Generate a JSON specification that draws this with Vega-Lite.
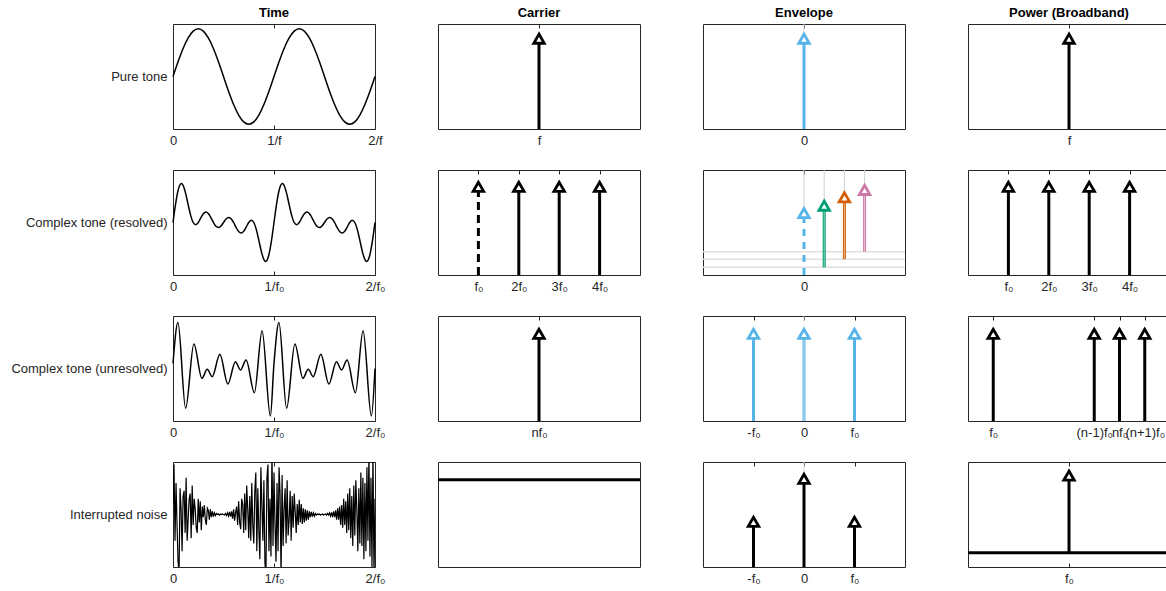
{
 "$schema": "https://vega.github.io/schema/vega-lite/v6.json",
 "padding": {"left": 10, "top": 6, "right": 0, "bottom": 5},
 "background": "white",
 "columns": 4,
 "spacing": {"row": 41, "column": 63},
 "bounds": "flush",
 "concat": [
  {
   "title": "Time", "width": 202, "height": 105,
   "data": {"values": [
    {"t":0,"v":0},{"t":0.05,"v":0.309},{"t":0.1,"v":0.588},{"t":0.15,"v":0.809},{"t":0.2,"v":0.951},{"t":0.25,"v":1},{"t":0.3,"v":0.951},{"t":0.35,"v":0.809},{"t":0.4,"v":0.588},{"t":0.45,"v":0.309},
    {"t":0.5,"v":0},{"t":0.55,"v":-0.309},{"t":0.6,"v":-0.588},{"t":0.65,"v":-0.809},{"t":0.7,"v":-0.951},{"t":0.75,"v":-1},{"t":0.8,"v":-0.951},{"t":0.85,"v":-0.809},{"t":0.9,"v":-0.588},{"t":0.95,"v":-0.309},
    {"t":1,"v":0},{"t":1.05,"v":0.309},{"t":1.1,"v":0.588},{"t":1.15,"v":0.809},{"t":1.2,"v":0.951},{"t":1.25,"v":1},{"t":1.3,"v":0.951},{"t":1.35,"v":0.809},{"t":1.4,"v":0.588},{"t":1.45,"v":0.309},
    {"t":1.5,"v":0},{"t":1.55,"v":-0.309},{"t":1.6,"v":-0.588},{"t":1.65,"v":-0.809},{"t":1.7,"v":-0.951},{"t":1.75,"v":-1},{"t":1.8,"v":-0.951},{"t":1.85,"v":-0.809},{"t":1.9,"v":-0.588},{"t":1.95,"v":-0.309},{"t":2,"v":0}
   ]},
   "resolve": {"axis": {"x": "independent"}},
   "layer": [
    {"mark": {"type": "line", "color": "black", "strokeWidth": 1.5, "interpolate": "monotone"},
     "encoding": {
      "x": {"field": "t", "type": "quantitative", "scale": {"domain": [0, 2], "nice": false}, "axis": {"title": null, "values": [0, 1, 2], "labelExpr": "['0','1/f','2/f'][datum.value]"}},
      "y": {"field": "v", "type": "quantitative", "scale": {"domain": [-1.1, 1.1], "nice": false}, "axis": {"title": "Pure tone", "titleAngle": 0, "titleAlign": "right", "titleBaseline": "middle", "titleX": -6, "titleY": 52.5, "labels": false, "ticks": false, "domain": false, "titleFontWeight": "normal", "titleFontSize": 13, "titleColor": "#262626", "titleFont": "Liberation Sans"}}
     }},
    {"mark": {"type": "rule", "strokeOpacity": 0},
     "encoding": {"x": {"field": "t", "type": "quantitative", "axis": {"title": null, "orient": "top", "values": [0, 1, 2], "labels": false}}}}
   ]
  },
  {
   "title": "Carrier", "width": 202, "height": 105,
   "data": {"values": [{"x": 1, "y0": 0, "y1": 0.86}]},
   "resolve": {"axis": {"x": "independent"}},
   "layer": [
    {"mark": {"type": "rule", "color": "black", "strokeWidth": 3},
     "encoding": {
      "x": {"field": "x", "type": "quantitative", "scale": {"domain": [0, 2], "nice": false}, "axis": {"title": null, "values": [1], "labelExpr": "'f'"}},
      "y": {"field": "y0", "type": "quantitative", "scale": {"domain": [0, 1], "nice": false}, "axis": null},
      "y2": {"field": "y1"}}},
    {"mark": {"type": "point", "shape": "triangle-up", "size": 110, "filled": false, "fill": "white", "stroke": "black", "strokeWidth": 2.8, "opacity": 1},
     "encoding": {
      "x": {"field": "x", "type": "quantitative", "axis": {"title": null, "orient": "top", "values": [1], "labels": false}},
      "y": {"field": "y1", "type": "quantitative", "axis": null}}}
   ]
  },
  {
   "title": "Envelope", "width": 202, "height": 105,
   "data": {"values": [{"x": 0, "y0": 0, "y1": 0.86}]},
   "resolve": {"axis": {"x": "independent"}},
   "layer": [
    {"mark": {"type": "rule", "color": "#d9d9d9", "strokeWidth": 1},
     "encoding": {
      "x": {"field": "x", "type": "quantitative", "scale": {"domain": [-2, 2], "nice": false}, "axis": {"title": null, "values": [0], "labelExpr": "'0'"}},
      "y": {"field": "y1", "type": "quantitative", "scale": {"domain": [0, 1], "nice": false}, "axis": null},
      "y2": {"datum": 1}}},
    {"mark": {"type": "rule", "color": "#56B4E9", "strokeWidth": 3},
     "encoding": {
      "x": {"field": "x", "type": "quantitative", "axis": null},
      "y": {"field": "y0", "type": "quantitative", "axis": null},
      "y2": {"field": "y1"}}},
    {"mark": {"type": "point", "shape": "triangle-up", "size": 110, "filled": false, "fill": "white", "stroke": "#56B4E9", "strokeWidth": 2.8, "opacity": 1},
     "encoding": {
      "x": {"field": "x", "type": "quantitative", "axis": {"title": null, "orient": "top", "values": [0], "labels": false}},
      "y": {"field": "y1", "type": "quantitative", "axis": null}}}
   ]
  },
  {
   "title": "Power (Broadband)", "width": 202, "height": 105,
   "data": {"values": [{"x": 1, "y0": 0, "y1": 0.86}]},
   "resolve": {"axis": {"x": "independent"}},
   "layer": [
    {"mark": {"type": "rule", "color": "black", "strokeWidth": 3},
     "encoding": {
      "x": {"field": "x", "type": "quantitative", "scale": {"domain": [0, 2], "nice": false}, "axis": {"title": null, "values": [1], "labelExpr": "'f'"}},
      "y": {"field": "y0", "type": "quantitative", "scale": {"domain": [0, 1], "nice": false}, "axis": null},
      "y2": {"field": "y1"}}},
    {"mark": {"type": "point", "shape": "triangle-up", "size": 110, "filled": false, "fill": "white", "stroke": "black", "strokeWidth": 2.8, "opacity": 1},
     "encoding": {
      "x": {"field": "x", "type": "quantitative", "axis": {"title": null, "orient": "top", "values": [1], "labels": false}},
      "y": {"field": "y1", "type": "quantitative", "axis": null}}}
   ]
  },
  {
   "width": 202, "height": 105,
   "data": {"values": [
    {"t":0,"v":0},{"t":0.025,"v":1.507},{"t":0.05,"v":2.657},{"t":0.075,"v":3.202},{"t":0.083,"v":3.232},{"t":0.1,"v":3.078},{"t":0.125,"v":2.414},{"t":0.15,"v":1.481},{"t":0.175,"v":0.593},{"t":0.2,"v":0},
    {"t":0.225,"v":-0.182},{"t":0.25,"v":0},{"t":0.275,"v":0.376},{"t":0.3,"v":0.727},{"t":0.325,"v":0.877},{"t":0.35,"v":0.755},{"t":0.375,"v":0.414},{"t":0.4,"v":0},
    {"t":0.425,"v":-0.318},{"t":0.45,"v":-0.421},{"t":0.475,"v":-0.286},{"t":0.5,"v":0},{"t":0.525,"v":0.286},{"t":0.55,"v":0.421},{"t":0.575,"v":0.318},{"t":0.6,"v":0},
    {"t":0.625,"v":-0.414},{"t":0.65,"v":-0.755},{"t":0.675,"v":-0.877},{"t":0.7,"v":-0.727},{"t":0.725,"v":-0.376},{"t":0.75,"v":0},{"t":0.775,"v":0.182},{"t":0.8,"v":0},
    {"t":0.825,"v":-0.593},{"t":0.85,"v":-1.481},{"t":0.875,"v":-2.414},{"t":0.9,"v":-3.078},{"t":0.917,"v":-3.232},{"t":0.925,"v":-3.202},{"t":0.95,"v":-2.657},{"t":0.975,"v":-1.507},{"t":1,"v":0},
    {"t":1.025,"v":1.507},{"t":1.05,"v":2.657},{"t":1.075,"v":3.202},{"t":1.083,"v":3.232},{"t":1.1,"v":3.078},{"t":1.125,"v":2.414},{"t":1.15,"v":1.481},{"t":1.175,"v":0.593},{"t":1.2,"v":0},
    {"t":1.225,"v":-0.182},{"t":1.25,"v":0},{"t":1.275,"v":0.376},{"t":1.3,"v":0.727},{"t":1.325,"v":0.877},{"t":1.35,"v":0.755},{"t":1.375,"v":0.414},{"t":1.4,"v":0},
    {"t":1.425,"v":-0.318},{"t":1.45,"v":-0.421},{"t":1.475,"v":-0.286},{"t":1.5,"v":0},{"t":1.525,"v":0.286},{"t":1.55,"v":0.421},{"t":1.575,"v":0.318},{"t":1.6,"v":0},
    {"t":1.625,"v":-0.414},{"t":1.65,"v":-0.755},{"t":1.675,"v":-0.877},{"t":1.7,"v":-0.727},{"t":1.725,"v":-0.376},{"t":1.75,"v":0},{"t":1.775,"v":0.182},{"t":1.8,"v":0},
    {"t":1.825,"v":-0.593},{"t":1.85,"v":-1.481},{"t":1.875,"v":-2.414},{"t":1.9,"v":-3.078},{"t":1.917,"v":-3.232},{"t":1.925,"v":-3.202},{"t":1.95,"v":-2.657},{"t":1.975,"v":-1.507},{"t":2,"v":0}
   ]},
   "resolve": {"axis": {"x": "independent"}},
   "layer": [
    {"mark": {"type": "line", "color": "black", "strokeWidth": 1.5, "interpolate": "monotone"},
     "encoding": {
      "x": {"field": "t", "type": "quantitative", "scale": {"domain": [0, 2], "nice": false}, "axis": {"title": null, "values": [0, 1, 2], "labelExpr": "['0','1/f₀','2/f₀'][datum.value]"}},
      "y": {"field": "v", "type": "quantitative", "scale": {"domain": [-4.36, 4.36], "nice": false}, "axis": {"title": "Complex tone (resolved)", "titleAngle": 0, "titleAlign": "right", "titleBaseline": "middle", "titleX": -6, "titleY": 52.5, "labels": false, "ticks": false, "domain": false, "titleFontWeight": "normal", "titleFontSize": 13, "titleColor": "#262626", "titleFont": "Liberation Sans"}}
     }},
    {"mark": {"type": "rule", "strokeOpacity": 0},
     "encoding": {"x": {"field": "t", "type": "quantitative", "axis": {"title": null, "orient": "top", "values": [0, 1, 2], "labels": false}}}}
   ]
  },
  {
   "width": 202, "height": 105,
   "data": {"values": [{"x": 1, "y0": 0, "y1": 0.84, "d": "dash"}, {"x": 2, "y0": 0, "y1": 0.84, "d": "solid"}, {"x": 3, "y0": 0, "y1": 0.84, "d": "solid"}, {"x": 4, "y0": 0, "y1": 0.84, "d": "solid"}]},
   "resolve": {"axis": {"x": "independent"}},
   "layer": [
    {"mark": {"type": "rule", "color": "black", "strokeWidth": 3},
     "encoding": {
      "x": {"field": "x", "type": "quantitative", "scale": {"domain": [0, 5], "nice": false}, "axis": {"title": null, "values": [1, 2, 3, 4], "labelExpr": "['','f₀','2f₀','3f₀','4f₀'][datum.value]"}},
      "y": {"field": "y0", "type": "quantitative", "scale": {"domain": [0, 1], "nice": false}, "axis": null},
      "y2": {"field": "y1"},
      "strokeDash": {"field": "d", "type": "nominal", "scale": {"domain": ["dash", "solid"], "range": [[8, 5], [1, 0]]}, "legend": null}}},
    {"mark": {"type": "point", "shape": "triangle-up", "size": 110, "filled": false, "fill": "white", "stroke": "black", "strokeWidth": 2.8, "opacity": 1},
     "encoding": {
      "x": {"field": "x", "type": "quantitative", "axis": {"title": null, "orient": "top", "values": [1, 2, 3, 4], "labels": false}},
      "y": {"field": "y1", "type": "quantitative", "axis": null}}}
   ]
  },
  {
   "width": 202, "height": 105,
   "data": {"values": [
    {"x": 0, "y0": 0, "y1": 0.59, "h": "h0"}, {"x": 0.4, "y0": 0.073, "y1": 0.66, "h": "h1"}, {"x": 0.8, "y0": 0.15, "y1": 0.74, "h": "h2"}, {"x": 1.2, "y0": 0.222, "y1": 0.81, "h": "h3"}
   ]},
   "resolve": {"axis": {"x": "independent"}},
   "layer": [
    {"transform": [{"filter": "datum.h != 'h0'"}],
     "mark": {"type": "rule", "color": "#e0e0e0", "strokeWidth": 1.5},
     "encoding": {
      "y": {"field": "y0", "type": "quantitative", "scale": {"domain": [0, 1], "nice": false}, "axis": null}}},
    {"mark": {"type": "rule", "color": "#d0d0d0", "strokeWidth": 1},
     "encoding": {
      "x": {"field": "x", "type": "quantitative", "scale": {"domain": [-2, 2], "nice": false}, "axis": {"title": null, "values": [0], "labelExpr": "'0'"}},
      "y": {"field": "y1", "type": "quantitative", "axis": null},
      "y2": {"datum": 1}}},
    {"transform": [{"filter": "datum.h == 'h0'"}],
     "mark": {"type": "rule", "strokeWidth": 3, "strokeDash": [7, 6]},
     "encoding": {
      "x": {"field": "x", "type": "quantitative", "axis": null},
      "y": {"field": "y0", "type": "quantitative", "axis": null},
      "y2": {"field": "y1"},
      "color": {"field": "h", "type": "nominal", "scale": {"domain": ["h0", "h1", "h2", "h3"], "range": ["#56B4E9", "#009E73", "#D55E00", "#CC79A7"]}, "legend": null}}},
    {"transform": [{"filter": "datum.h != 'h0'"}],
     "mark": {"type": "rule", "strokeWidth": 3},
     "encoding": {
      "x": {"field": "x", "type": "quantitative", "axis": null},
      "y": {"field": "y0", "type": "quantitative", "axis": null},
      "y2": {"field": "y1"},
      "color": {"field": "h", "type": "nominal", "legend": null}}},
    {"transform": [{"filter": "datum.h != 'h0'"}],
     "mark": {"type": "rule", "strokeWidth": 1, "color": "white", "opacity": 0.55},
     "encoding": {
      "x": {"field": "x", "type": "quantitative", "axis": null},
      "y": {"field": "y0", "type": "quantitative", "axis": null},
      "y2": {"field": "y1"}}},
    {"mark": {"type": "point", "shape": "triangle-up", "size": 110, "filled": false, "fill": "white", "strokeWidth": 2.8, "opacity": 1},
     "encoding": {
      "x": {"field": "x", "type": "quantitative", "axis": {"title": null, "orient": "top", "values": [0], "labels": false}},
      "y": {"field": "y1", "type": "quantitative", "axis": null},
      "color": {"field": "h", "type": "nominal", "legend": null}}}
   ]
  },
  {
   "width": 202, "height": 105,
   "data": {"values": [{"x": 1, "y0": 0, "y1": 0.84}, {"x": 2, "y0": 0, "y1": 0.84}, {"x": 3, "y0": 0, "y1": 0.84}, {"x": 4, "y0": 0, "y1": 0.84}]},
   "resolve": {"axis": {"x": "independent"}},
   "layer": [
    {"mark": {"type": "rule", "color": "black", "strokeWidth": 3},
     "encoding": {
      "x": {"field": "x", "type": "quantitative", "scale": {"domain": [0, 5], "nice": false}, "axis": {"title": null, "values": [1, 2, 3, 4], "labelExpr": "['','f₀','2f₀','3f₀','4f₀'][datum.value]"}},
      "y": {"field": "y0", "type": "quantitative", "scale": {"domain": [0, 1], "nice": false}, "axis": null},
      "y2": {"field": "y1"}}},
    {"mark": {"type": "point", "shape": "triangle-up", "size": 110, "filled": false, "fill": "white", "stroke": "black", "strokeWidth": 2.8, "opacity": 1},
     "encoding": {
      "x": {"field": "x", "type": "quantitative", "axis": {"title": null, "orient": "top", "values": [1, 2, 3, 4], "labels": false}},
      "y": {"field": "y1", "type": "quantitative", "axis": null}}}
   ]
  },
  {
   "width": 202, "height": 105,
   "data": {"values": [
    {"t":0,"v":0.55},{"t":0.049,"v":0.937},{"t":0.125,"v":0.121},{"t":0.207,"v":0.733},{"t":0.286,"v":0.406},{"t":0.339,"v":0.492},{"t":0.388,"v":0.422},{"t":0.464,"v":0.635},{"t":0.543,"v":0.352},{"t":0.618,"v":0.565},{"t":0.668,"v":0.486},{"t":0.724,"v":0.581},{"t":0.806,"v":0.27},{"t":0.882,"v":0.86},{"t":0.964,"v":0.048},
    {"t":1,"v":0.55},{"t":1.049,"v":0.937},{"t":1.125,"v":0.121},{"t":1.207,"v":0.733},{"t":1.286,"v":0.406},{"t":1.339,"v":0.492},{"t":1.388,"v":0.422},{"t":1.464,"v":0.635},{"t":1.543,"v":0.352},{"t":1.618,"v":0.565},{"t":1.668,"v":0.486},{"t":1.724,"v":0.581},{"t":1.806,"v":0.27},{"t":1.882,"v":0.86},{"t":1.964,"v":0.048},{"t":2,"v":0.5}
   ]},
   "resolve": {"axis": {"x": "independent"}},
   "layer": [
    {"mark": {"type": "line", "color": "black", "strokeWidth": 1.5, "interpolate": "monotone"},
     "encoding": {
      "x": {"field": "t", "type": "quantitative", "scale": {"domain": [0, 2], "nice": false}, "axis": {"title": null, "values": [0, 1, 2], "labelExpr": "['0','1/f₀','2/f₀'][datum.value]"}},
      "y": {"field": "v", "type": "quantitative", "scale": {"domain": [0, 1], "nice": false}, "axis": {"title": "Complex tone (unresolved)", "titleAngle": 0, "titleAlign": "right", "titleBaseline": "middle", "titleX": -6, "titleY": 52.5, "labels": false, "ticks": false, "domain": false, "titleFontWeight": "normal", "titleFontSize": 13, "titleColor": "#262626", "titleFont": "Liberation Sans"}}
     }},
    {"mark": {"type": "rule", "strokeOpacity": 0},
     "encoding": {"x": {"field": "t", "type": "quantitative", "axis": {"title": null, "orient": "top", "values": [0, 1, 2], "labels": false}}}}
   ]
  },
  {
   "width": 202, "height": 105,
   "data": {"values": [{"x": 1, "y0": 0, "y1": 0.83}]},
   "resolve": {"axis": {"x": "independent"}},
   "layer": [
    {"mark": {"type": "rule", "color": "black", "strokeWidth": 3},
     "encoding": {
      "x": {"field": "x", "type": "quantitative", "scale": {"domain": [0, 2], "nice": false}, "axis": {"title": null, "values": [1], "labelExpr": "'nf₀'"}},
      "y": {"field": "y0", "type": "quantitative", "scale": {"domain": [0, 1], "nice": false}, "axis": null},
      "y2": {"field": "y1"}}},
    {"mark": {"type": "point", "shape": "triangle-up", "size": 110, "filled": false, "fill": "white", "stroke": "black", "strokeWidth": 2.8, "opacity": 1},
     "encoding": {
      "x": {"field": "x", "type": "quantitative", "axis": {"title": null, "orient": "top", "values": [1], "labels": false}},
      "y": {"field": "y1", "type": "quantitative", "axis": null}}}
   ]
  },
  {
   "width": 202, "height": 105,
   "data": {"values": [{"x": -1, "y0": 0, "y1": 0.83}, {"x": 0, "y0": 0, "y1": 0.83}, {"x": 1, "y0": 0, "y1": 0.83}]},
   "resolve": {"axis": {"x": "independent"}},
   "layer": [
    {"mark": {"type": "rule", "color": "#56B4E9", "strokeWidth": 3},
     "encoding": {
      "x": {"field": "x", "type": "quantitative", "scale": {"domain": [-2, 2], "nice": false}, "axis": {"title": null, "values": [-1, 0, 1], "labelExpr": "datum.value == 0 ? '0' : datum.value < 0 ? '-f₀' : 'f₀'"}},
      "y": {"field": "y0", "type": "quantitative", "scale": {"domain": [0, 1], "nice": false}, "axis": null},
      "y2": {"field": "y1"}}},
    {"transform": [{"filter": "datum.x == 0"}],
     "mark": {"type": "rule", "color": "#e8e8e8", "strokeWidth": 1, "opacity": 0.8},
     "encoding": {
      "x": {"field": "x", "type": "quantitative", "axis": null},
      "y": {"field": "y0", "type": "quantitative", "axis": null},
      "y2": {"datum": 1}}},
    {"mark": {"type": "point", "shape": "triangle-up", "size": 110, "filled": false, "fill": "white", "stroke": "#56B4E9", "strokeWidth": 2.8, "opacity": 1},
     "encoding": {
      "x": {"field": "x", "type": "quantitative", "axis": {"title": null, "orient": "top", "values": [-1, 0, 1], "labels": false}},
      "y": {"field": "y1", "type": "quantitative", "axis": null}}}
   ]
  },
  {
   "width": 202, "height": 105,
   "data": {"values": [{"x": 1, "y0": 0, "y1": 0.83}, {"x": 5, "y0": 0, "y1": 0.83}, {"x": 6, "y0": 0, "y1": 0.83}, {"x": 7, "y0": 0, "y1": 0.83}]},
   "resolve": {"axis": {"x": "independent"}},
   "layer": [
    {"mark": {"type": "rule", "color": "black", "strokeWidth": 3},
     "encoding": {
      "x": {"field": "x", "type": "quantitative", "scale": {"domain": [0, 8], "nice": false}, "axis": {"title": null, "values": [1, 5, 6, 7], "labelExpr": "datum.value == 1 ? 'f₀' : datum.value == 5 ? '(n-1)f₀' : datum.value == 6 ? 'nf₀' : '(n+1)f₀'"}},
      "y": {"field": "y0", "type": "quantitative", "scale": {"domain": [0, 1], "nice": false}, "axis": null},
      "y2": {"field": "y1"}}},
    {"mark": {"type": "point", "shape": "triangle-up", "size": 110, "filled": false, "fill": "white", "stroke": "black", "strokeWidth": 2.8, "opacity": 1},
     "encoding": {
      "x": {"field": "x", "type": "quantitative", "axis": {"title": null, "orient": "top", "values": [1, 5, 6, 7], "labels": false}},
      "y": {"field": "y1", "type": "quantitative", "axis": null}}}
   ]
  },
  {
   "width": 202, "height": 105,
   "data": {"values": [
    {"t":0,"v":0.2},{"t":0.01,"v":0.95},{"t":0.02,"v":-0.5},{"t":0.03,"v":0.6},{"t":0.04,"v":-0.2},{"t":0.05,"v":-0.9},{"t":0.06,"v":-1.1},{"t":0.07,"v":0.5},{"t":0.08,"v":0.1},{"t":0.09,"v":-0.7},
    {"t":0.1,"v":0.35},{"t":0.11,"v":0.45},{"t":0.12,"v":-0.35},{"t":0.13,"v":0.7},{"t":0.14,"v":-0.5},{"t":0.15,"v":-0.1},{"t":0.16,"v":0.3},{"t":0.17,"v":0.4},{"t":0.18,"v":-0.45},{"t":0.19,"v":0.55},
    {"t":0.2,"v":-0.2},{"t":0.21,"v":0.3},{"t":0.22,"v":0.1},{"t":0.23,"v":-0.25},{"t":0.24,"v":-0.35},{"t":0.25,"v":0.3},{"t":0.26,"v":-0.15},{"t":0.27,"v":0.25},{"t":0.28,"v":-0.3},{"t":0.29,"v":0.15},
    {"t":0.3,"v":-0.05},{"t":0.31,"v":0.18},{"t":0.32,"v":-0.1},{"t":0.33,"v":-0.2},{"t":0.34,"v":0.12},{"t":0.35,"v":0.08},{"t":0.36,"v":-0.1},{"t":0.37,"v":0.1},{"t":0.38,"v":-0.05},{"t":0.39,"v":0.06},
    {"t":0.4,"v":-0.04},{"t":0.41,"v":0.03},{"t":0.42,"v":-0.02},{"t":0.43,"v":0.02},{"t":0.44,"v":0},{"t":0.45,"v":0.01},{"t":0.46,"v":-0.01},{"t":0.47,"v":0.01},{"t":0.48,"v":0},{"t":0.49,"v":0.01},
    {"t":0.5,"v":0},{"t":0.51,"v":-0.01},{"t":0.52,"v":0.02},{"t":0.53,"v":-0.02},{"t":0.54,"v":0.03},{"t":0.55,"v":-0.03},{"t":0.56,"v":0.05},{"t":0.57,"v":-0.04},{"t":0.58,"v":0.06},{"t":0.59,"v":-0.08},
    {"t":0.6,"v":0.1},{"t":0.61,"v":-0.12},{"t":0.62,"v":0.04},{"t":0.63,"v":0.15},{"t":0.64,"v":-0.2},{"t":0.65,"v":0.25},{"t":0.66,"v":-0.15},{"t":0.67,"v":-0.28},{"t":0.68,"v":0.3},{"t":0.69,"v":0.2},
    {"t":0.7,"v":-0.35},{"t":0.71,"v":0.4},{"t":0.72,"v":-0.3},{"t":0.73,"v":0.55},{"t":0.74,"v":0.1},{"t":0.75,"v":-0.45},{"t":0.76,"v":0.35},{"t":0.77,"v":-0.5},{"t":0.78,"v":0.6},{"t":0.79,"v":-0.2},
    {"t":0.8,"v":-0.55},{"t":0.81,"v":0.45},{"t":0.82,"v":0.8},{"t":0.83,"v":-0.7},{"t":0.84,"v":0.5},{"t":0.85,"v":-0.3},{"t":0.86,"v":-0.85},{"t":0.87,"v":0.9},{"t":0.88,"v":0.2},{"t":0.89,"v":-0.5},
    {"t":0.9,"v":0.65},{"t":0.91,"v":-0.9},{"t":0.92,"v":-1.2},{"t":0.93,"v":0.7},{"t":0.94,"v":0.95},{"t":0.95,"v":-0.7},{"t":0.96,"v":0.3},{"t":0.97,"v":-0.8},{"t":0.98,"v":1.2},{"t":0.99,"v":-0.6},
    {"t":1,"v":0.8},{"t":1.01,"v":-0.2},{"t":1.02,"v":-0.9},{"t":1.03,"v":0.6},{"t":1.04,"v":-0.7},{"t":1.05,"v":0.9},{"t":1.06,"v":0.4},{"t":1.07,"v":-1.2},{"t":1.08,"v":0.75},{"t":1.09,"v":-0.6},
    {"t":1.1,"v":0.1},{"t":1.11,"v":0.5},{"t":1.12,"v":-0.55},{"t":1.13,"v":0.65},{"t":1.14,"v":-0.4},{"t":1.15,"v":-0.1},{"t":1.16,"v":0.45},{"t":1.17,"v":-0.5},{"t":1.18,"v":0.35},{"t":1.19,"v":-0.25},
    {"t":1.2,"v":0.4},{"t":1.21,"v":0.05},{"t":1.22,"v":-0.35},{"t":1.23,"v":0.2},{"t":1.24,"v":-0.2},{"t":1.25,"v":0.28},{"t":1.26,"v":-0.15},{"t":1.27,"v":0.2},{"t":1.28,"v":-0.18},{"t":1.29,"v":0.12},
    {"t":1.3,"v":-0.15},{"t":1.31,"v":0.1},{"t":1.32,"v":-0.12},{"t":1.33,"v":0.08},{"t":1.34,"v":-0.1},{"t":1.35,"v":0.06},{"t":1.36,"v":-0.05},{"t":1.37,"v":0.05},{"t":1.38,"v":-0.04},{"t":1.39,"v":0.03},
    {"t":1.4,"v":-0.03},{"t":1.41,"v":0.02},{"t":1.42,"v":-0.01},{"t":1.43,"v":0.01},{"t":1.44,"v":0},{"t":1.45,"v":0.01},{"t":1.46,"v":-0.01},{"t":1.47,"v":0},{"t":1.48,"v":0.01},{"t":1.49,"v":-0.01},
    {"t":1.5,"v":0},{"t":1.51,"v":0.01},{"t":1.52,"v":-0.01},{"t":1.53,"v":0.02},{"t":1.54,"v":-0.01},{"t":1.55,"v":0.03},{"t":1.56,"v":-0.03},{"t":1.57,"v":0.04},{"t":1.58,"v":-0.05},{"t":1.59,"v":0.06},
    {"t":1.6,"v":-0.05},{"t":1.61,"v":0.08},{"t":1.62,"v":-0.1},{"t":1.63,"v":0.12},{"t":1.64,"v":-0.1},{"t":1.65,"v":0.15},{"t":1.66,"v":-0.2},{"t":1.67,"v":0.18},{"t":1.68,"v":-0.25},{"t":1.69,"v":0.3},
    {"t":1.7,"v":-0.2},{"t":1.71,"v":0.25},{"t":1.72,"v":-0.35},{"t":1.73,"v":0.4},{"t":1.74,"v":-0.3},{"t":1.75,"v":0.5},{"t":1.76,"v":-0.45},{"t":1.77,"v":0.35},{"t":1.78,"v":-0.6},{"t":1.79,"v":0.55},
    {"t":1.8,"v":-0.4},{"t":1.81,"v":0.65},{"t":1.82,"v":0.1},{"t":1.83,"v":-0.7},{"t":1.84,"v":0.5},{"t":1.85,"v":-0.55},{"t":1.86,"v":0.8},{"t":1.87,"v":-0.6},{"t":1.88,"v":0.7},{"t":1.89,"v":-0.85},
    {"t":1.9,"v":0.6},{"t":1.91,"v":-0.7},{"t":1.92,"v":0.9},{"t":1.93,"v":-0.5},{"t":1.94,"v":1.2},{"t":1.95,"v":-0.8},{"t":1.96,"v":0.7},{"t":1.97,"v":-1.0},{"t":1.98,"v":1.2},{"t":1.99,"v":-1.2},{"t":2,"v":0.3}
   ]},
   "resolve": {"axis": {"x": "independent"}},
   "layer": [
    {"mark": {"type": "line", "color": "black", "strokeWidth": 1.2, "clip": true},
     "encoding": {
      "x": {"field": "t", "type": "quantitative", "scale": {"domain": [0, 2], "nice": false}, "axis": {"title": null, "values": [0, 1, 2], "labelExpr": "['0','1/f₀','2/f₀'][datum.value]"}},
      "y": {"field": "v", "type": "quantitative", "scale": {"domain": [-1, 1], "nice": false}, "axis": {"title": "Interrupted noise", "titleAngle": 0, "titleAlign": "right", "titleBaseline": "middle", "titleX": -6, "titleY": 52.5, "labels": false, "ticks": false, "domain": false, "titleFontWeight": "normal", "titleFontSize": 13, "titleColor": "#262626", "titleFont": "Liberation Sans"}}
     }},
    {"mark": {"type": "rule", "strokeOpacity": 0},
     "encoding": {"x": {"field": "t", "type": "quantitative", "axis": {"title": null, "orient": "top", "values": [0, 1, 2], "labels": false}}}}
   ]
  },
  {
   "width": 202, "height": 105,
   "data": {"values": [{"y": 0.83}]},
   "layer": [
    {"mark": {"type": "rule", "color": "black", "strokeWidth": 3},
     "encoding": {
      "y": {"field": "y", "type": "quantitative", "scale": {"domain": [0, 1], "nice": false}, "axis": null}}}
   ]
  },
  {
   "width": 202, "height": 105,
   "data": {"values": [{"x": -1, "y0": 0, "y1": 0.43}, {"x": 0, "y0": 0, "y1": 0.84}, {"x": 1, "y0": 0, "y1": 0.43}]},
   "resolve": {"axis": {"x": "independent"}},
   "layer": [
    {"transform": [{"filter": "datum.x == 0"}],
     "mark": {"type": "rule", "color": "#d9d9d9", "strokeWidth": 1},
     "encoding": {
      "x": {"field": "x", "type": "quantitative", "scale": {"domain": [-2, 2], "nice": false}, "axis": {"title": null, "values": [-1, 0, 1], "labelExpr": "datum.value == 0 ? '0' : datum.value < 0 ? '-f₀' : 'f₀'"}},
      "y": {"field": "y1", "type": "quantitative", "scale": {"domain": [0, 1], "nice": false}, "axis": null},
      "y2": {"datum": 1}}},
    {"mark": {"type": "rule", "color": "black", "strokeWidth": 3},
     "encoding": {
      "x": {"field": "x", "type": "quantitative", "axis": null},
      "y": {"field": "y0", "type": "quantitative", "axis": null},
      "y2": {"field": "y1"}}},
    {"mark": {"type": "point", "shape": "triangle-up", "size": 110, "filled": false, "fill": "white", "stroke": "black", "strokeWidth": 2.8, "opacity": 1},
     "encoding": {
      "x": {"field": "x", "type": "quantitative", "axis": {"title": null, "orient": "top", "values": [-1, 0, 1], "labels": false}},
      "y": {"field": "y1", "type": "quantitative", "axis": null}}}
   ]
  },
  {
   "width": 202, "height": 105,
   "data": {"values": [{"x": 1, "y0": 0.136, "y1": 0.87}]},
   "resolve": {"axis": {"x": "independent"}},
   "layer": [
    {"mark": {"type": "rule", "color": "black", "strokeWidth": 3},
     "encoding": {
      "y": {"field": "y0", "type": "quantitative", "scale": {"domain": [0, 1], "nice": false}, "axis": null}}},
    {"mark": {"type": "rule", "color": "black", "strokeWidth": 3},
     "encoding": {
      "x": {"field": "x", "type": "quantitative", "scale": {"domain": [0, 2], "nice": false}, "axis": {"title": null, "values": [1], "labelExpr": "'f₀'"}},
      "y": {"field": "y0", "type": "quantitative", "axis": null},
      "y2": {"field": "y1"}}},
    {"mark": {"type": "point", "shape": "triangle-up", "size": 110, "filled": false, "fill": "white", "stroke": "black", "strokeWidth": 2.8, "opacity": 1},
     "encoding": {
      "x": {"field": "x", "type": "quantitative", "axis": {"title": null, "orient": "top", "values": [1], "labels": false}},
      "y": {"field": "y1", "type": "quantitative", "axis": null}}}
   ]
  }
 ],
 "config": {
  "font": "Liberation Sans",
  "view": {"stroke": "#262626", "strokeWidth": 1},
  "axis": {"domain": false, "grid": false, "labelFont": "Liberation Sans", "labelFontSize": 13, "labelColor": "#262626", "tickColor": "#262626", "tickSize": -4, "tickWidth": 1, "labelPadding": 9, "labelFlush": false, "labelOverlap": false},
  "title": {"font": "Liberation Sans", "fontSize": 13, "fontWeight": "bold", "color": "black", "offset": 4}
 }
}
